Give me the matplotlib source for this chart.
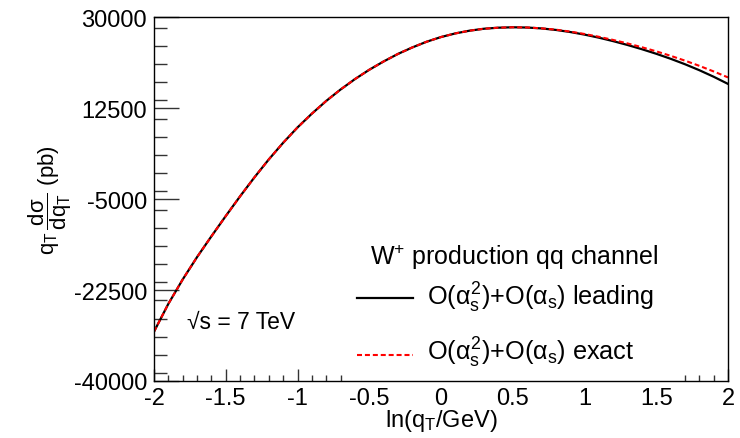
import matplotlib
matplotlib.use("Agg")
import matplotlib.pyplot as plt
from matplotlib.patches import Rectangle
from matplotlib.lines import Line2D
from matplotlib.ticker import MultipleLocator

plt.rcParams['font.family'] = ['Liberation Sans', 'DejaVu Sans']
plt.rcParams['mathtext.fontset'] = 'custom'
plt.rcParams['mathtext.rm'] = 'Liberation Sans'
plt.rcParams['mathtext.it'] = 'Liberation Sans'
plt.rcParams['mathtext.sf'] = 'Liberation Sans'
plt.rcParams['mathtext.bf'] = 'Liberation Sans:bold'

# ---- data ----
ln_qt = [-2.0, -1.9, -1.8, -1.7, -1.6, -1.5, -1.4, -1.3, -1.2, -1.1, -1.0,
         -0.9, -0.8, -0.7, -0.6, -0.5, -0.4, -0.3, -0.2, -0.1, 0.0,
         0.1, 0.2, 0.3, 0.4, 0.5, 0.6, 0.7, 0.8, 0.9, 1.0,
         1.1, 1.2, 1.3, 1.4, 1.5, 1.6, 1.7, 1.8, 1.9, 2.0]
leading = [-30500, -25150, -20450, -16150, -12150, -8250, -4450, -800, 2650, 5850, 8800,
           11450, 13900, 16100, 18100, 19900, 21500, 22950, 24200, 25300, 26200,
           26900, 27430, 27800, 28000, 28080, 28030, 27860, 27570, 27170, 26670,
           26080, 25410, 24670, 23860, 22980, 22020, 20970, 19820, 18560, 17180]
exact = [-30500, -25150, -20450, -16150, -12150, -8250, -4450, -800, 2650, 5850, 8800,
         11450, 13900, 16100, 18100, 19900, 21500, 22950, 24200, 25300, 26200,
         26900, 27430, 27800, 28000, 28080, 28040, 27880, 27620, 27250, 26790,
         26250, 25640, 24970, 24240, 23450, 22590, 21660, 20660, 19580, 18430]

xticks = [-2, -1.5, -1, -0.5, 0, 0.5, 1, 1.5, 2]
xticklabels = ['-2', '-1.5', '-1', '-0.5', '0', '0.5', '1', '1.5', '2']
yticks = [-40000, -22500, -5000, 12500, 30000]
yticklabels = ['-40000', '-22500', '-5000', '12500', '30000']

title_txt = r'W$^{+}$ production qq channel'
lbl_leading = r'O($\alpha_{s}^{2}$)+O($\alpha_{s}$) leading'
lbl_exact = r'O($\alpha_{s}^{2}$)+O($\alpha_{s}$) exact'
energy_txt = '√s = 7 TeV'

fig = plt.figure(figsize=(7.40, 4.39), dpi=100)
ax = fig.add_axes([154/740, 1-382/439, (728-154)/740, (382-18.3)/439])

ax.plot(ln_qt, leading, color='black', lw=1.6, zorder=4)
ax.plot(ln_qt, exact, color='#ff0000', lw=1.5, ls=(0, (2.4, 1.4)), zorder=5)

ax.set_xlim(-2, 2)
ax.set_ylim(-40000, 30000)
ax.set_xticks(xticks)
ax.set_xticklabels(xticklabels)
ax.set_yticks(yticks)
ax.set_yticklabels(yticklabels)
ax.xaxis.set_minor_locator(MultipleLocator(0.1))
ax.yaxis.set_minor_locator(MultipleLocator(3500))

ax.tick_params(axis='both', which='both', direction='in', top=False, right=False,
               color='#333333', width=1.0)
ax.tick_params(axis='x', which='major', length=9, labelsize=17, pad=4)
ax.tick_params(axis='x', which='minor', length=4.5)
ax.tick_params(axis='y', which='major', length=18, labelsize=17, pad=5)
ax.tick_params(axis='y', which='minor', length=9)

for sp in ax.spines.values():
    sp.set_linewidth(1.0)
    sp.set_zorder(6)

ax.set_xlabel(r'ln(q$_{T}$/GeV)', fontsize=17)
ax.xaxis.set_label_coords(0.5, -0.072)
ax.set_ylabel(r'q$_{T}\,\dfrac{d\sigma}{dq_{T}}$ (pb)', fontsize=16)
ax.yaxis.set_label_coords(-0.139, 0.5)

# legend box (white fill, no border)
ax.add_patch(Rectangle((0.329, 0.0), 0.593, 0.41, transform=ax.transAxes,
                       facecolor='white', edgecolor='none', zorder=3))
ax.text(0.376, 0.343, title_txt, transform=ax.transAxes, fontsize=18,
        ha='left', va='center', zorder=7)
ax.add_line(Line2D([0.354, 0.451], [0.228, 0.228], transform=ax.transAxes,
                   color='black', lw=1.6, zorder=7))
ax.text(0.476, 0.231, lbl_leading, transform=ax.transAxes, fontsize=18.2,
        ha='left', va='center', zorder=7)
ax.add_line(Line2D([0.354, 0.451], [0.071, 0.071], transform=ax.transAxes,
                   color='#ff0000', lw=1.5, ls=(0, (2.4, 1.4)), zorder=7))
ax.text(0.476, 0.080, lbl_exact, transform=ax.transAxes, fontsize=18.2,
        ha='left', va='center', zorder=7)

ax.text(0.0575, 0.165, energy_txt, transform=ax.transAxes, fontsize=16.5,
        ha='left', va='center', zorder=7)

fig.savefig('out.png', dpi=100)
